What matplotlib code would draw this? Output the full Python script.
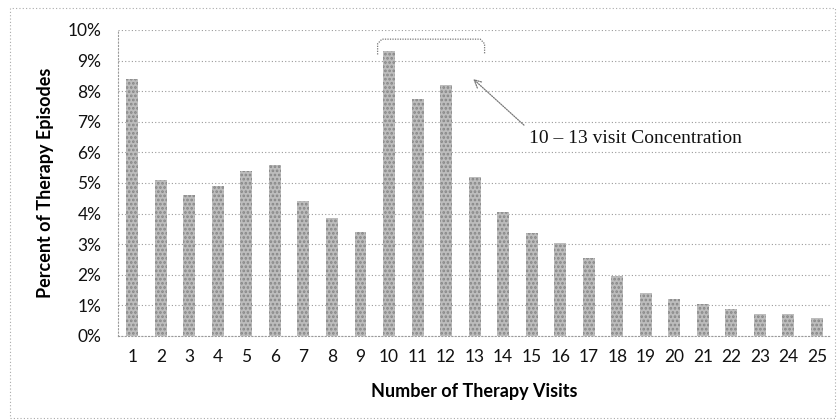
import matplotlib.pyplot as plt
from matplotlib.patches import Rectangle
from matplotlib.ticker import PercentFormatter

visits = list(range(1, 26))
pct = [8.4, 5.1, 4.6, 4.9, 5.4, 5.6, 4.4, 3.85, 3.4, 9.3,
       7.75, 8.2, 5.2, 4.05, 3.35, 3.05, 2.55, 1.97, 1.4, 1.2,
       1.04, 0.87, 0.72, 0.71, 0.59]

plt.rcParams['hatch.linewidth'] = 1.3

fig = plt.figure(figsize=(8.4, 4.2), dpi=100)
ax = fig.add_axes([0.1405, 0.2, 0.849, 0.7286])

ax.bar(visits, pct, width=0.42, color='#bdbdbd', edgecolor='#868686',
       linewidth=0, hatch='....', zorder=2)

ax.set_xlim(0.5, 25.5)
ax.set_ylim(0, 10)
ax.set_yticks(range(0, 11))
ax.yaxis.set_major_formatter(PercentFormatter(decimals=0))
ax.set_xticks(visits)
ax.grid(axis='y', linestyle=(0, (1, 2)), color='#9a9a9a', linewidth=0.8, zorder=0)
for side in ['top', 'right']:
    ax.spines[side].set_visible(False)
for side in ['left', 'bottom']:
    ax.spines[side].set_linestyle((0, (1, 2)))
    ax.spines[side].set_color('#9a9a9a')
ax.tick_params(length=0, labelsize=12.5, labelcolor='#111111')
ax.tick_params(axis='x', pad=9)
ax.tick_params(axis='y', pad=12)
for lab in ax.get_xticklabels() + ax.get_yticklabels():
    lab.set_family('Lato')

ax.set_xlabel('Number of Therapy Visits', family='Lato', fontweight='bold',
              fontsize=13, labelpad=13)
ax.set_ylabel('Percent of Therapy Episodes', family='Lato', fontweight='bold',
              fontsize=13, labelpad=10)

# bracket over visits 10-13
bx0, bx1, by0, by1 = 9.6, 13.35, 9.2, 9.7
ax.plot([bx0, bx0, bx0 + 0.15, bx1 - 0.15, bx1, bx1],
        [by0, by1 - 0.15, by1, by1, by1 - 0.15, by0],
        color='#777777', linewidth=0.9, linestyle=(0, (1, 1)),
        clip_on=False)

ax.annotate('10 – 13 visit Concentration', xy=(12.95, 8.4), xytext=(14.9, 6.47),
            family='Liberation Serif', fontsize=14, color='#111111',
            ha='left', va='center',
            arrowprops=dict(arrowstyle='->', color='#777777', linewidth=0.9,
                            linestyle=(0, (1, 1)), shrinkA=2, shrinkB=0,
                            relpos=(0, 1)))

fig.patches.append(Rectangle((0.012, 0.005), 0.982, 0.976, transform=fig.transFigure,
                             fill=False, edgecolor='#aaaaaa', linewidth=0.8,
                             linestyle=(0, (1, 2))))

fig.savefig('out.png', dpi=100)
